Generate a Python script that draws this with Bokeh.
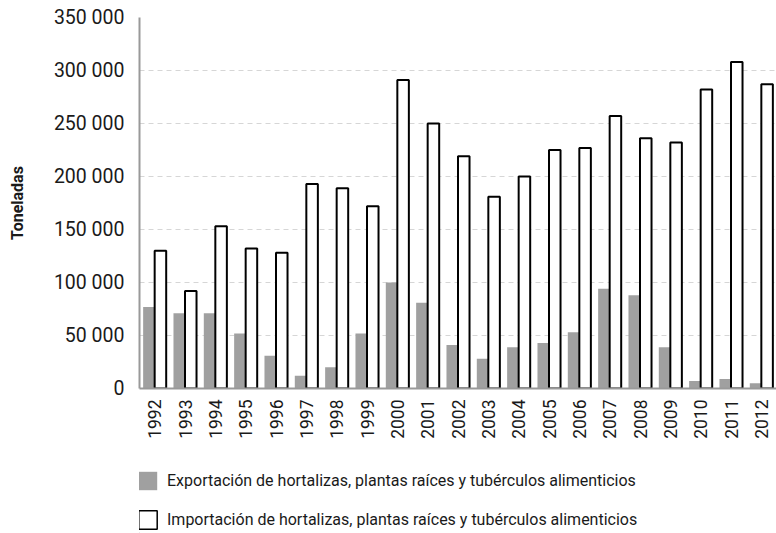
import math
from bokeh.plotting import figure
from bokeh.layouts import column
from bokeh.models import FactorRange, Range1d, FixedTicker, Legend, LegendItem, ColumnDataSource
from bokeh.transform import dodge
from bokeh.embed import file_html
from bokeh.resources import INLINE

years = [str(y) for y in range(1992, 2013)]
exportacion = [77000, 71000, 71000, 52000, 31000, 12000, 20000, 52000, 100000, 81000,
               41000, 28000, 39000, 43000, 53000, 94000, 88000, 39000, 7000, 9000, 5000]
importacion = [130000, 92000, 153000, 132000, 128000, 193000, 189000, 172000, 291000, 250000,
               219000, 181000, 200000, 225000, 227000, 257000, 236000, 232000, 282000, 308000, 287000]
y_ticks = [0, 50000, 100000, 150000, 200000, 250000, 300000, 350000]
y_tick_labels = ["0", "50 000", "100 000", "150 000", "200 000", "250 000", "300 000", "350 000"]
label_exp = "Exportación de hortalizas, plantas raíces y tubérculos alimenticios"
label_imp = "Importación de hortalizas, plantas raíces y tubérculos alimenticios"

src = ColumnDataSource(dict(year=years, exp=exportacion, imp=importacion))

FONT = "Roboto"
GRAY = "#a0a0a0"
TXT = "#1a1a1a"

p = figure(x_range=FactorRange(*years), y_range=Range1d(0, 350000),
           width=776, height=445, output_backend="svg", toolbar_location=None,
           min_border_left=139, min_border_right=0, min_border_top=17, min_border_bottom=57)
p.outline_line_color = None
p.background_fill_color = "white"

r_exp = p.vbar(x=dodge("year", -0.19, range=p.x_range), top="exp", width=0.38, source=src,
               fill_color=GRAY, line_color=None)
r_imp = p.vbar(x=dodge("year", 0.19, range=p.x_range), top="imp", width=0.38, source=src,
               fill_color="white", line_color="black", line_width=2)

p.xgrid.grid_line_color = None
p.ygrid.grid_line_color = "#d6d6d6"
p.ygrid.grid_line_dash = "5 4"
p.ygrid.grid_line_width = 1

p.yaxis.ticker = FixedTicker(ticks=y_ticks)
p.yaxis.major_label_overrides = {t: l for t, l in zip(y_ticks, y_tick_labels)}
p.yaxis.axis_label = "Toneladas"
p.yaxis.axis_label_text_font = FONT
p.yaxis.axis_label_text_font_style = "bold"
p.yaxis.axis_label_text_font_size = "16px"
p.yaxis.axis_label_text_color = TXT
p.yaxis.axis_label_standoff = 24
p.yaxis.major_label_text_font = FONT
p.yaxis.major_label_text_font_size = "19.5px"
p.yaxis.major_label_text_color = TXT
p.yaxis.major_label_standoff = 9
p.yaxis.major_tick_line_color = None
p.yaxis.minor_tick_line_color = None
p.yaxis.axis_line_color = "#999999"
p.yaxis.axis_line_width = 2

p.xaxis.major_label_orientation = math.pi / 2
p.xaxis.major_label_text_font = FONT
p.xaxis.major_label_text_font_size = "17.5px"
p.xaxis.major_label_text_color = TXT
p.xaxis.major_label_standoff = 5
p.xaxis.major_tick_line_color = None
p.xaxis.axis_line_color = "#999999"
p.xaxis.axis_line_width = 2

# legend panel below the chart (its frame is aligned with the chart's frame)
lf = figure(width=776, height=88, output_backend="svg", toolbar_location=None,
            x_axis_type=None, y_axis_type=None, x_range=Range1d(0, 1), y_range=Range1d(0, 1),
            min_border_left=0, min_border_right=0, min_border_top=0, min_border_bottom=0)
lf.outline_line_color = None
lf.grid.visible = False
offscreen = ColumnDataSource(dict(x=[-10], top=[-10]))
l_exp = lf.vbar(x="x", top="top", width=0.1, source=offscreen, fill_color=GRAY, line_color=None)
l_imp = lf.vbar(x="x", top="top", width=0.1, source=offscreen, fill_color="white",
                line_color="black", line_width=1.5)

legend = Legend(items=[LegendItem(label=label_exp, renderers=[l_exp]),
                       LegendItem(label=label_imp, renderers=[l_imp])],
                location=(-3, 2), orientation="vertical",
                glyph_width=23, glyph_height=23, label_standoff=8, spacing=16,
                label_text_font=FONT, label_text_font_size="16px", label_text_color=TXT,
                border_line_color=None, background_fill_alpha=0, padding=0, margin=0)
lf.add_layout(legend, "center")

layout = column(p, lf, spacing=0)
open("out.html", "w").write(file_html(layout, INLINE))
